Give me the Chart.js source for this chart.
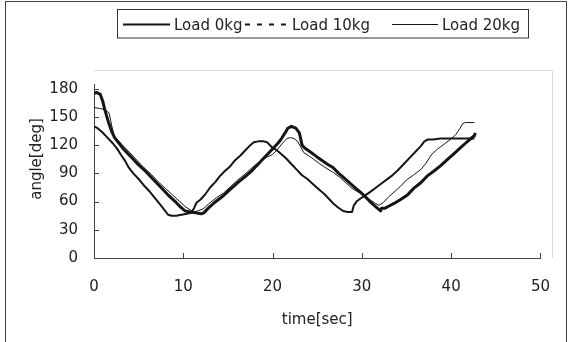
<!DOCTYPE html>
<html>
<head>
<meta charset="utf-8">
<script src="https://cdn.jsdelivr.net/npm/chart.js@4"></script>
<style>
  html, body { margin: 0; padding: 0; background: #fff; }
</style>
</head>
<body>
<canvas id="angleChart" width="570" height="342"></canvas>
<script>
// series labels
const seriesNames = ['Load 0kg', 'Load 10kg', 'Load 20kg'];

// Load 0kg  (time [sec], angle [deg])
const time0  = [0, 0.4, 0.9, 1.4, 2.1, 2.6, 3.0, 3.5, 3.9, 4.4, 5.0, 5.7, 6.2, 6.8, 7.4, 7.9, 8.3, 8.7, 9.2, 9.8, 10.4, 10.9,
                11.2, 11.5, 11.9, 12.4, 13.0, 13.6, 14.1, 14.6, 15.2, 15.8, 16.4, 16.9, 17.4, 17.9, 18.4, 19.0, 19.4,
                19.9, 20.4, 20.9, 21.5, 22.1, 22.7, 23.3, 23.9, 24.6, 25.3, 25.8, 26.3, 26.8, 27.3, 27.9, 28.4, 28.9,
                29.1, 29.4, 29.8, 30.3, 30.9, 31.6, 32.3, 33.3, 34.0, 34.7, 35.4, 36.0, 36.6, 37.0, 37.4, 38.0, 38.8,
                39.6, 40.5, 41.5, 42.6];
const angle0 = [140, 138, 134, 129, 122, 116, 110, 103, 96, 90, 84, 76, 71, 64, 57, 51, 46, 45, 45, 46, 47, 48,
                53, 59, 62, 67, 75, 81, 87, 92, 97, 104, 109, 114, 119, 123, 124, 124, 123,
                118, 115, 111, 106, 100, 94, 88, 84, 78, 72, 68, 63, 58, 54, 50, 49, 49,
                56, 60, 63, 66, 70, 75, 80, 87, 93, 100, 107, 113, 119, 124, 126, 126, 127,
                127, 127, 127, 127];

// Load 10kg
const time10  = [0, 0.3, 0.7, 1.0, 1.2, 1.6, 2.0, 2.3, 2.8, 3.2, 3.7, 4.4, 5.0, 5.7, 6.3, 7.0, 7.7, 8.4, 9.1, 9.7,
                 10.2, 10.8, 11.4, 12.0, 12.3, 12.8, 13.5, 14.2, 14.8, 15.5, 16.2, 17.0, 17.7, 18.4, 19.0, 19.7,
                 20.2, 20.6, 21.0, 21.4, 21.7, 22.1, 22.6, 23.0, 23.3, 23.6, 24.2, 24.9, 25.5, 26.1, 26.8, 27.4,
                 27.9, 28.5, 29.1, 29.7, 30.3, 30.9, 31.5, 32.1, 32.2, 32.6, 33.0, 33.6, 34.3, 35.1, 35.8, 36.6,
                 37.3, 38.0, 38.8, 39.5, 40.2, 40.9, 41.6, 42.2, 42.6, 42.7];
const angle10 = [175, 176, 174, 166, 158, 145, 134, 128, 122, 117, 112, 105, 99, 93, 87, 80, 73, 66, 60, 54,
                 50, 49, 48, 47, 48, 53, 59, 64, 69, 75, 81, 87, 93, 100, 106, 113,
                 118, 122, 127, 133, 138, 140, 138, 133, 120, 117, 113, 108, 104, 100, 96, 90,
                 86, 81, 76, 71, 66, 60, 55, 50, 53, 53, 55, 58, 62, 67, 74, 80,
                 87, 92, 98, 104, 110, 116, 122, 127, 130, 133];

// Load 20kg
const time20  = [0, 0.6, 1.2, 1.7, 2.0, 2.3, 2.7, 3.3, 4.0, 4.8, 5.6, 6.4, 7.2, 8.0, 8.8, 9.6, 10.3, 10.8, 11.1,
                 11.6, 12.2, 12.9, 13.7, 14.5, 15.3, 16.1, 16.9, 17.7, 18.5, 19.3, 20.0, 20.6, 21.1, 21.6, 22.0,
                 22.4, 22.8, 23.1, 23.5, 24.0, 24.6, 25.3, 26.1, 26.8, 27.5, 28.2, 28.9, 29.6, 30.3, 30.9, 31.5,
                 31.9, 32.4, 33.0, 33.6, 34.3, 35.0, 35.9, 36.6, 37.2, 37.8, 38.5, 39.2, 39.9, 40.5, 41.0, 41.3,
                 41.6, 42.6];
const angle20 = [160, 159, 158, 154, 140, 129, 125, 119, 112, 104, 96, 89, 81, 74, 67, 60, 54, 51, 49,
                 50, 52, 58, 64, 69, 76, 83, 89, 96, 102, 107, 110, 116, 122, 127, 128,
                 127, 124, 119, 112, 109, 105, 100, 95, 91, 86, 80, 74, 70, 67, 62, 58,
                 56, 59, 65, 70, 76, 83, 89, 94, 101, 110, 116, 121, 126, 131, 138, 143,
                 144, 144];

// axis ticks
const xTicks = [0, 10, 20, 30, 40, 50];
const yTicks = [0, 30, 60, 90, 120, 150, 180];

const lineWidths = [2, 3, 1];
const legendDash = [[], [5, 7], []];
const ink = '#151515';

function pairs(xs, ys) {
  return xs.map((x, i) => ({ x: x, y: ys[i] }));
}

Chart.defaults.font.family = '"DejaVu Sans", sans-serif';
Chart.defaults.font.size = 15;
Chart.defaults.color = '#222';

const extras = {
  id: 'extras',
  beforeDraw(chart) {
    const c = chart.ctx;
    c.save();
    c.fillStyle = '#fff';
    c.fillRect(0, 0, chart.width, chart.height);
    c.restore();
  },
  afterDraw(chart) {
    const c = chart.ctx;
    const xs = chart.scales.x, ys = chart.scales.y;
    const area = chart.chartArea;
    c.save();

    // outer frame
    c.strokeStyle = '#444';
    c.lineWidth = 1;
    c.strokeRect(5.5, 1.5, 561, 360);

    // faint plot area edges
    c.strokeStyle = '#dcdcdc';
    c.beginPath();
    c.moveTo(area.left, 70.5);
    c.lineTo(552.5, 70.5);
    c.lineTo(552.5, area.bottom);
    c.stroke();

    // inner tick marks
    c.strokeStyle = '#444';
    c.beginPath();
    xTicks.forEach(v => {
      const px = Math.round(xs.getPixelForValue(v)) + 0.5;
      c.moveTo(px, area.bottom);
      c.lineTo(px, area.bottom - 5);
    });
    yTicks.forEach(v => {
      const py = Math.round(ys.getPixelForValue(v)) + 0.5;
      c.moveTo(area.left, py);
      c.lineTo(area.left + 5, py);
    });
    c.stroke();

    // y axis title
    c.fillStyle = '#222';
    c.font = '15px "DejaVu Sans", sans-serif';
    c.textAlign = 'center';
    c.textBaseline = 'middle';
    c.translate(37, 159);
    c.rotate(-Math.PI / 2);
    c.fillText('angle[deg]', 0, 0);
    c.setTransform(1, 0, 0, 1, 0, 0);

    // legend box
    c.strokeStyle = '#333';
    c.lineWidth = 1;
    c.strokeRect(117.5, 9.5, 411, 28.5);
    const sampleX = [123, 245, 392];
    const sampleLen = [47, 43, 46];
    c.textAlign = 'left';
    chart.data.datasets.forEach((ds, i) => {
      c.strokeStyle = ink;
      c.lineWidth = i === 1 ? 2 : lineWidths[i];
      c.setLineDash(legendDash[i]);
      c.beginPath();
      c.moveTo(sampleX[i], 24.5);
      c.lineTo(sampleX[i] + sampleLen[i], 24.5);
      c.stroke();
      c.setLineDash([]);
      c.fillStyle = '#222';
      c.fillText(ds.label, sampleX[i] + sampleLen[i] + 4, 26);
    });
    c.restore();
  }
};

new Chart(document.getElementById('angleChart'), {
  type: 'line',
  data: {
    datasets: [
      { label: seriesNames[0], data: pairs(time0, angle0) },
      { label: seriesNames[1], data: pairs(time10, angle10) },
      { label: seriesNames[2], data: pairs(time20, angle20) }
    ].map((ds, i) => Object.assign(ds, {
      borderColor: ink,
      borderWidth: lineWidths[i],
      pointRadius: 0,
      tension: 0,
      fill: false,
      borderJoinStyle: 'round'
    }))
  },
  options: {
    responsive: false,
    animation: false,
    layout: { padding: { top: 84, right: 17, left: 0, bottom: 0 } },
    plugins: {
      legend: { display: false },
      tooltip: { enabled: false }
    },
    scales: {
      x: {
        type: 'linear',
        min: 0,
        max: 50,
        afterBuildTicks: axis => { axis.ticks = xTicks.map(v => ({ value: v })); },
        afterFit: axis => { axis.height = 84; },
        ticks: { padding: 20, color: '#222' },
        grid: { display: true, drawOnChartArea: false, drawTicks: false },
        border: { display: true, color: '#444', width: 1 },
        title: { display: true, text: 'time[sec]', color: '#222', padding: { top: 0, bottom: 13 } }
      },
      y: {
        min: 0,
        max: 185,
        afterBuildTicks: axis => { axis.ticks = yTicks.map(v => ({ value: v })); },
        afterFit: axis => { axis.width = 94; },
        ticks: { padding: 16, color: '#222' },
        grid: { display: true, drawOnChartArea: false, drawTicks: false },
        border: { display: true, color: '#444', width: 1 }
      }
    }
  },
  plugins: [extras]
});
</script>
</body>
</html>
